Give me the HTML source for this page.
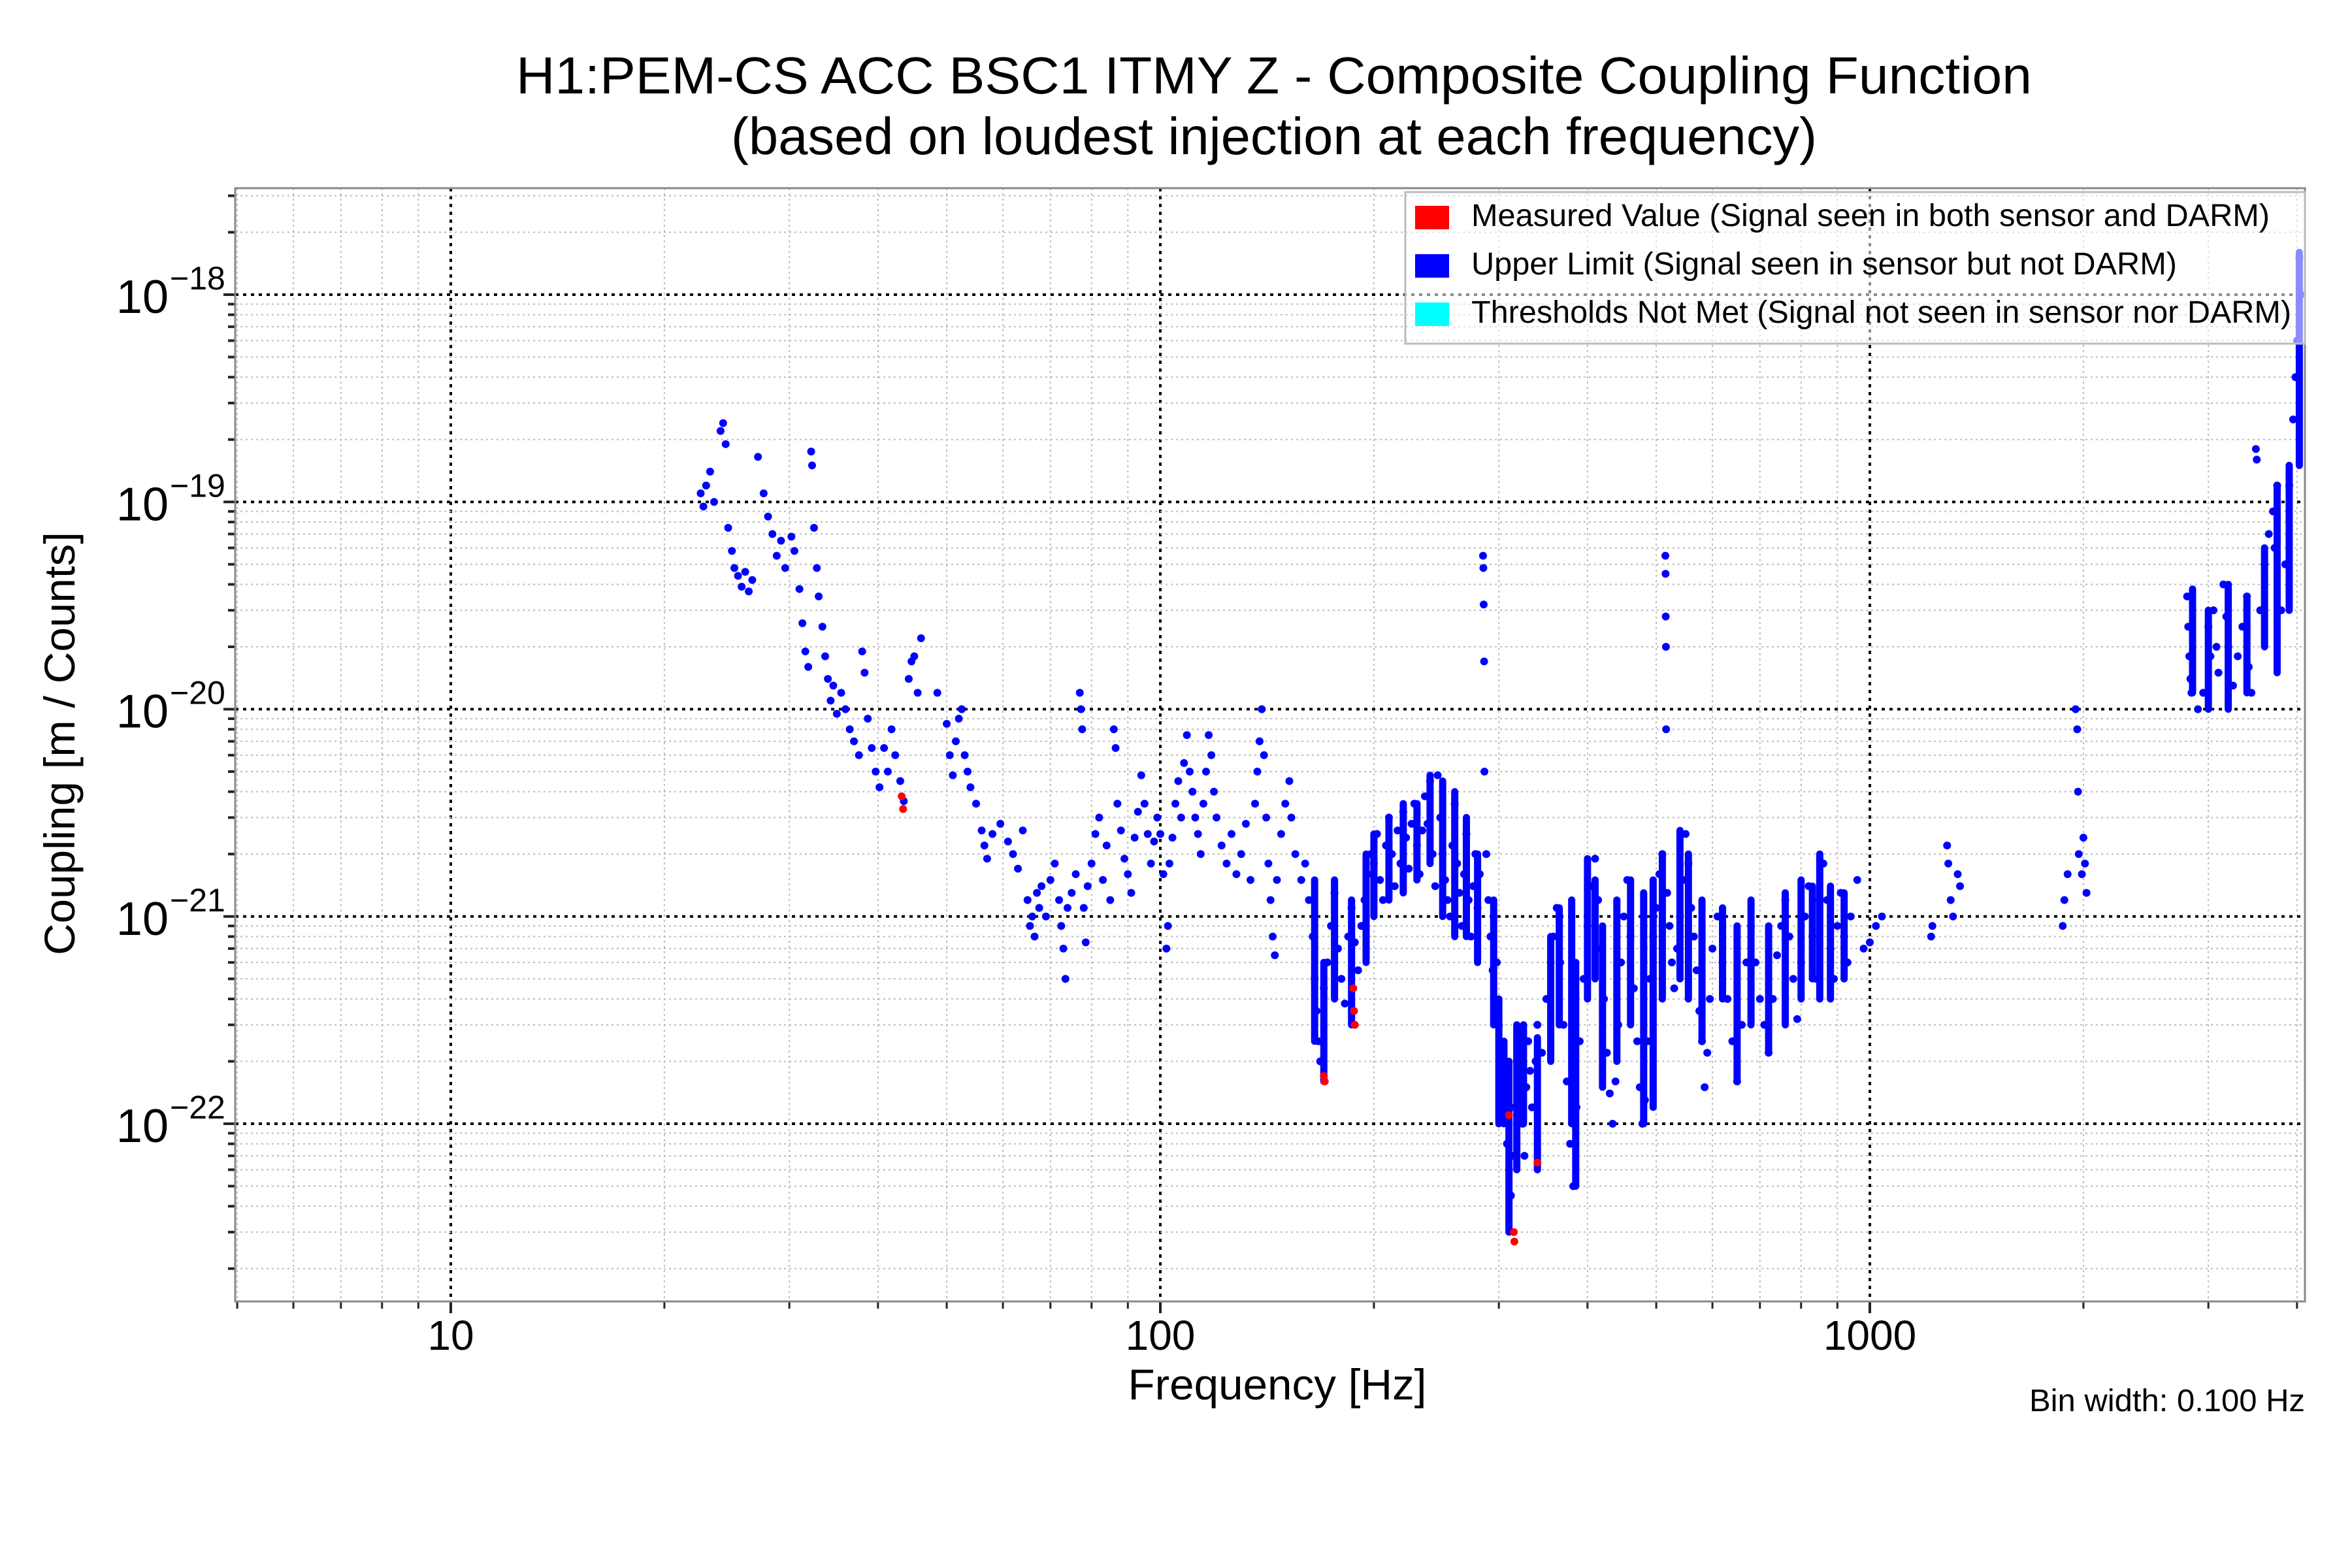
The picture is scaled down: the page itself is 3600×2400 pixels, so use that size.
<!DOCTYPE html>
<html><head><meta charset="utf-8">
<style>
html,body{margin:0;padding:0;background:#fff;}
svg{display:block;font-family:"Liberation Sans",sans-serif;}
</style></head>
<body>
<svg id="chart" width="3600" height="2400" viewBox="0 0 3600 2400" xmlns="http://www.w3.org/2000/svg">
<rect x="0" y="0" width="3600" height="2400" fill="#fff"/>
<text x="1950" y="143" font-size="80" text-anchor="middle" textLength="2320" lengthAdjust="spacingAndGlyphs">H1:PEM-CS ACC BSC1 ITMY Z - Composite Coupling Function</text>
<text x="1950" y="236" font-size="80" text-anchor="middle" textLength="1662" lengthAdjust="spacingAndGlyphs">(based on loudest injection at each frequency)</text>
<g id="grid"></g>
<g id="marks"></g>
<g id="axes"></g>
<g id="legend">
<rect x="2151" y="294" width="1377" height="232" fill="#fff" fill-opacity="0.55" stroke="#bbb" stroke-width="3"/>
<rect x="2166" y="315" width="52" height="36" fill="#ff0000"/>
<text x="2252" y="346" font-size="48" textLength="1222" lengthAdjust="spacingAndGlyphs">Measured Value (Signal seen in both sensor and DARM)</text>
<rect x="2166" y="389" width="52" height="36" fill="#0000ff"/>
<text x="2252" y="420" font-size="48" textLength="1080" lengthAdjust="spacingAndGlyphs">Upper Limit (Signal seen in sensor but not DARM)</text>
<rect x="2166" y="463" width="52" height="36" fill="#00ffff"/>
<text x="2252" y="494" font-size="48" textLength="1255" lengthAdjust="spacingAndGlyphs">Thresholds Not Met (Signal not seen in sensor nor DARM)</text>
</g>
<text x="1955" y="2142" font-size="66" text-anchor="middle" textLength="457" lengthAdjust="spacingAndGlyphs">Frequency [Hz]</text>
<text transform="translate(114,1138) rotate(-90)" font-size="66" text-anchor="middle" textLength="648" lengthAdjust="spacingAndGlyphs">Coupling [m / Counts]</text>
<text x="3106" y="2160" font-size="48" textLength="422" lengthAdjust="spacingAndGlyphs">Bin width: 0.100 Hz</text>
</svg>
<script>
// ---- data ----
const xTickValues = [10, 100, 1000];
const xTickLabels = ["10", "100", "1000"];
const yTickExps = [-18, -19, -20, -21, -22];

const upperFreq = [22.5,22.7,22.9,23.2,23.5,24.0,24.2,24.4,24.6,24.9,25.1,25.4,25.7,26.0,26.3,26.6,27.1,27.6,28.0,28.4,28.8,29.2,29.6,30.2,30.5,31.0,31.3,31.6,31.9,32.2,32.3,32.5,32.8,33.0,33.4,33.7,34.0,34.3,34.6,35.0,35.5,36.0,36.5,37.0,37.6,38.0,38.3,38.7,39.2,39.7,40.2,40.8,41.3,41.8,42.3,43.0,43.5,44.2,44.6,45.0,45.5,46.0,48.5,50.0,50.5,51.0,51.5,52.0,52.5,53.0,53.5,54.0,55.0,56.0,56.5,57.0,58.0,59.5,61.0,62.0,63.0,64.0,65.0,65.5,66.0,66.5,67.0,67.5,68.0,69.0,70.0,71.0,72.0,72.5,73.0,73.5,74.0,75.0,76.0,77.0,77.3,77.6,78.0,78.5,79.0,80.0,81.0,82.0,83.0,84.0,85.0,86.0,86.5,87.0,88.0,89.0,90.0,91.0,92.0,93.0,94.0,95.0,96.0,97.0,98.0,99.0,100,101,102,102.5,103,104,105,106,107,108,109,110,111,112,113,114,115,116,117,118,119,120,122,124,126,128,130,132,134,136,137,138,139,140,141,142,143,144,145,146,148,150,152,153,155,158,160,162,164,165,166,167,168,170,172,174,176,178,180,182,184,186,188,190,192,194,196,198,200,202,204,206,208,210,212,214,216,218,220,222,224,226,228,230,232,234,236,238,240,242,244,246,248,250,252,254,256,258,260,262,264,266,268,270,272,274,276,278,280,282,285,285.3,285.6,286,286.3,288,290,292,294,296,298,300,302,304,306,308,310,312,314,316,318,320,322,324,326,328,330,332,334,338,340,345,350,355,358,362,366,370,374,378,382,386,390,395,400,405,410,414,418,422,426,430,434,438,442,446,450,455,460,465,470,474,478,482,486,490,495,500,505,510,515,515.3,515.6,516,516.3,518,522,526,530,535,540,545,550,555,560,565,570,575,580,585,590,595,600,610,620,630,640,650,660,670,680,690,700,710,720,730,740,750,760,770,780,790,800,810,820,830,840,850,860,870,880,890,900,910,920,930,940,960,980,1000,1020,1040,1220,1225,1285,1290,1300,1310,1330,1340,1870,1880,1900,1950,1960,1965,1970,1990,2000,2010,2020,2800,2810,2820,2830,2840,2900,2950,3000,3020,3050,3080,3100,3150,3180,3200,3250,3300,3350,3400,3420,3450,3500,3510,3550,3600,3650,3700,3720,3750,3800,3850,3900,3950,3980,4000,4030,4050];
const upperCoupling = [1.1e-19,9.5e-20,1.2e-19,1.4e-19,1.0e-19,2.2e-19,2.4e-19,1.9e-19,7.5e-20,5.8e-20,4.8e-20,4.4e-20,3.9e-20,4.6e-20,3.7e-20,4.2e-20,1.65e-19,1.1e-19,8.5e-20,7e-20,5.5e-20,6.5e-20,4.8e-20,6.8e-20,5.8e-20,3.8e-20,2.6e-20,1.9e-20,1.6e-20,1.75e-19,1.5e-19,7.5e-20,4.8e-20,3.5e-20,2.5e-20,1.8e-20,1.4e-20,1.1e-20,1.3e-20,9.5e-21,1.2e-20,1.0e-20,8e-21,7e-21,6e-21,1.9e-20,1.5e-20,9e-21,6.5e-21,5e-21,4.2e-21,6.5e-21,5e-21,8e-21,6e-21,4.5e-21,3.6e-21,1.4e-20,1.7e-20,1.8e-20,1.2e-20,2.2e-20,1.2e-20,8.5e-21,6e-21,4.8e-21,7e-21,9e-21,1.0e-20,6e-21,5e-21,4.2e-21,3.5e-21,2.6e-21,2.2e-21,1.9e-21,2.5e-21,2.8e-21,2.3e-21,2.0e-21,1.7e-21,2.6e-21,1.2e-21,9e-22,1.0e-21,8e-22,1.3e-21,1.1e-21,1.4e-21,1.0e-21,1.5e-21,1.8e-21,1.2e-21,9e-22,7e-22,5e-22,1.1e-21,1.3e-21,1.6e-21,1.2e-20,1.0e-20,8e-21,1.1e-21,7.5e-22,1.4e-21,1.8e-21,2.5e-21,3e-21,1.5e-21,2.2e-21,1.2e-21,8e-21,6.5e-21,3.5e-21,2.6e-21,1.9e-21,1.6e-21,1.3e-21,2.4e-21,3.2e-21,4.8e-21,3.5e-21,2.5e-21,1.8e-21,2.3e-21,3e-21,2.5e-21,1.6e-21,7e-22,9e-22,1.8e-21,2.4e-21,3.5e-21,4.5e-21,3e-21,5.5e-21,7.5e-21,5e-21,4e-21,3e-21,2.5e-21,2e-21,3.5e-21,5e-21,7.5e-21,6e-21,4e-21,3e-21,2.2e-21,1.8e-21,2.5e-21,1.6e-21,2e-21,2.8e-21,1.5e-21,3.5e-21,5e-21,7e-21,1.0e-20,6e-21,3e-21,1.8e-21,1.2e-21,8e-22,6.5e-22,1.5e-21,2.5e-21,3.5e-21,4.5e-21,3e-21,2e-21,1.5e-21,1.8e-21,1.2e-21,8e-22,5e-22,3.5e-22,2.5e-22,2e-22,4.5e-22,6e-22,9e-22,1.3e-21,7e-22,5e-22,3.8e-22,8e-22,1.1e-21,7.5e-22,5.5e-22,9e-22,1.2e-21,1.6e-21,2e-21,1.8e-21,2.5e-21,1.5e-21,1.2e-21,2.2e-21,3e-21,2e-21,1.4e-21,2.6e-21,1.8e-21,3.2e-21,2.4e-21,1.7e-21,2.8e-21,3.5e-21,2.2e-21,1.6e-21,2.6e-21,3.8e-21,2.8e-21,4.5e-21,2e-21,1.4e-21,4.8e-21,3e-21,2e-21,1.5e-21,1.2e-21,1e-21,2.2e-21,3.5e-21,1.8e-21,1.3e-21,9e-22,1.6e-21,2.5e-21,1.2e-21,8e-22,1.4e-21,2e-21,1.1e-21,1.6e-21,5.5e-20,4.8e-20,3.2e-20,1.7e-20,5e-21,2e-21,1.2e-21,8e-22,5.5e-22,4e-22,6e-22,3e-22,2e-22,1.5e-22,1.1e-22,8e-23,6e-23,4.5e-23,7e-23,1.2e-22,2e-22,2.8e-22,1.6e-22,1e-22,7e-23,1.5e-22,2.5e-22,1.8e-22,1.2e-22,2e-22,3e-22,2.2e-22,4e-22,6e-22,8e-22,1.1e-21,6e-22,3e-22,1.6e-22,8e-23,5e-23,1.2e-22,2.5e-22,5e-22,9e-22,1.4e-21,1.9e-21,1.2e-21,7e-22,4e-22,2.2e-22,1.4e-22,1e-22,1.6e-22,3e-22,6e-22,1e-21,1.5e-21,8e-22,4.5e-22,2.5e-22,1.5e-22,1e-22,1.3e-22,2.5e-22,5e-22,8e-22,1.1e-21,1.6e-21,2e-21,5.5e-20,4.5e-20,2.8e-20,2e-20,8e-21,1.3e-21,9e-22,6e-22,4.5e-22,7e-22,1e-21,1.5e-21,2.5e-21,1.8e-21,1.1e-21,8e-22,5.5e-22,3.5e-22,2.5e-22,1.5e-22,2.2e-22,4e-22,7e-22,1e-21,6e-22,4e-22,2.5e-22,1.6e-22,3e-22,6e-22,9e-22,6e-22,4e-22,3e-22,2.2e-22,4e-22,6.5e-22,9e-22,1.2e-21,8e-22,5e-22,3.2e-22,6e-22,1e-21,1.4e-21,8e-22,5e-22,1.2e-21,1.8e-21,1.2e-21,7e-22,5e-22,9e-22,1.3e-21,8e-22,6e-22,1e-21,1.5e-21,7e-22,7.5e-22,9e-22,1e-21,8e-22,9e-22,2.2e-21,1.8e-21,1.2e-21,1e-21,1.6e-21,1.4e-21,9e-22,1.2e-21,1.6e-21,1e-20,8e-21,4e-21,2e-21,1.6e-21,2.4e-21,1.8e-21,1.3e-21,3.5e-20,2.5e-20,1.8e-20,1.4e-20,1.2e-20,1e-20,1.2e-20,2.5e-20,1.8e-20,3e-20,2e-20,1.5e-20,4e-20,2.8e-20,2e-20,1.3e-20,1.8e-20,2.5e-20,3.5e-20,1.6e-20,1.2e-20,1.8e-19,1.6e-19,3e-20,5e-20,7e-20,9e-20,6e-20,1.2e-19,3e-20,5e-20,1.2e-19,2.5e-19,4e-19,6e-19,1.5e-18,1e-18];

// dense vertical streaks of upper-limit points: frequency, top value, bottom value
const streakFreq = [165,170,176,186,195,200,210,220,230,240,250,260,270,280,295,300,305,310,318,325,340,355,365,380,385,400,410,420,440,460,480,495,510,540,555,580,620,650,680,720,760,800,830,850,880,920,2850,3000,3200,3400,3600,3750,3900,4030];
const streakHigh = [1.5e-21,6e-22,1.5e-21,1.2e-21,2e-21,2.5e-21,3e-21,3.5e-21,3.5e-21,4.8e-21,4.5e-21,4e-21,3e-21,2e-21,1.2e-21,4e-22,2.5e-22,2e-22,3e-22,3e-22,2.6e-22,8e-22,1.1e-21,1.2e-21,6e-22,1.9e-21,1.5e-21,9e-22,1.2e-21,1.5e-21,1.3e-21,1.5e-21,2e-21,2.6e-21,2e-21,1.2e-21,1.1e-21,9e-22,1.2e-21,9e-22,1.3e-21,1.5e-21,1.4e-21,2e-21,1.4e-21,1.3e-21,3.8e-20,3e-20,4e-20,3.5e-20,6e-20,1.2e-19,1.5e-19,1.6e-18];
const streakLow = [2.5e-22,1.6e-22,4e-22,3e-22,6e-22,1e-21,1.2e-21,1.3e-21,1.5e-21,1.8e-21,1e-21,8e-22,8e-22,6e-22,3e-22,1e-22,1e-22,3e-23,6e-23,1e-22,6e-23,2e-22,3e-22,1e-22,5e-23,4e-22,5e-22,1.5e-22,2e-22,3e-22,1e-22,1.2e-22,4e-22,5e-22,4e-22,2.5e-22,4e-22,1.6e-22,3e-22,2.2e-22,3e-22,4e-22,5e-22,4e-22,4e-22,5e-22,1.2e-20,1e-20,1e-20,1.2e-20,2e-20,1.5e-20,3e-20,1.5e-19];

const measuredFreq = [43.2,43.4,170,170.5,187,187.5,188,310,315,315.5,340];
const measuredCoupling = [3.8e-21,3.3e-21,1.7e-22,1.6e-22,4.5e-22,3.5e-22,3e-22,1.1e-22,3e-23,2.7e-23,6.5e-23];

// ---- axes ----
const NS = "http://www.w3.org/2000/svg";
const PL = 360, PR = 3528, PT = 288, PB = 1992;
const X10 = 690, XDEC = 1086;
const Y18 = 451, YDEC = 317.25;
function xScale(f) { return X10 + (Math.log10(f) - 1) * XDEC; }
function yScale(v) { return Y18 + (-18 - Math.log10(v)) * YDEC; }
function mk(tag, attrs, parent) {
  const el = document.createElementNS(NS, tag);
  for (const k in attrs) el.setAttribute(k, attrs[k]);
  parent.appendChild(el);
  return el;
}
const grid = document.getElementById('grid');
const axes = document.getElementById('axes');
const marks = document.getElementById('marks');

for (let d = 0; d <= 3; d++) {
  for (let m = 1; m <= 9; m++) {
    const f = m * Math.pow(10, d);
    const x = xScale(f);
    if (x < PL - 0.5 || x > PR + 0.5) continue;
    const major = m === 1;
    const gl = mk('line', {x1: x, x2: x, y1: PT, y2: PB, stroke: major ? '#000' : '#bbb', 'stroke-width': major ? 4 : 2, 'stroke-dasharray': major ? '5 7' : '3 5'}, grid);
    
    
    const tk = mk('line', {x1: x, x2: x, y1: PB, y2: PB + (major ? 18 : 11), stroke: '#222', 'stroke-width': major ? 4 : 3}, axes);
    
    
  }
}
for (let e = -23; e <= -18; e++) {
  for (let m = 1; m <= 9; m++) {
    const v = m * Math.pow(10, e);
    const y = yScale(v);
    if (y < PT - 0.5 || y > PB + 0.5) continue;
    const major = m === 1;
    const gl = mk('line', {x1: PL, x2: PR, y1: y, y2: y, stroke: major ? '#000' : '#bbb', 'stroke-width': major ? 4 : 2, 'stroke-dasharray': major ? '5 7' : '3 5'}, grid);
    
    
    const tk = mk('line', {x1: PL - (major ? 18 : 11), x2: PL, y1: y, y2: y, stroke: '#222', 'stroke-width': 4}, axes);
    
    
  }
}
const frame = mk('rect', {x: PL, y: PT, width: PR - PL, height: PB - PT, fill: 'none', stroke: '#888', 'stroke-width': 3}, axes);



xTickValues.forEach((f, i) => {
  const t = mk('text', {x: xScale(f), y: 2066, 'font-size': 64, 'text-anchor': 'middle'}, axes);
  t.textContent = xTickLabels[i];
  
  
});
yTickExps.forEach(e => {
  const y = yScale(Math.pow(10, e));
  const t = mk('text', {x: 258, y: y + 28, 'font-size': 72, 'text-anchor': 'end'}, axes);
  t.textContent = '10';
  
  
  const s = mk('text', {x: 260, y: y - 8, 'font-size': 50}, axes);
  s.textContent = '\u2212' + (-e);
  
  
});

streakFreq.forEach((f, i) => {
  const x = xScale(f);
  const l = mk('line', {x1: x, x2: x, y1: yScale(streakHigh[i]), y2: yScale(streakLow[i]), stroke: '#0000ff', 'stroke-width': 11, 'stroke-linecap': 'round'}, marks);
  
  
});
upperFreq.forEach((f, i) => {
  const c = mk('circle', {cx: xScale(f), cy: yScale(upperCoupling[i]), r: 6, fill: '#0000ff'}, marks);
  
  
});
measuredFreq.forEach((f, i) => {
  const c = mk('circle', {cx: xScale(f), cy: yScale(measuredCoupling[i]), r: 6, fill: '#ff0000'}, marks);
  
  
});
</script>
</body></html>
